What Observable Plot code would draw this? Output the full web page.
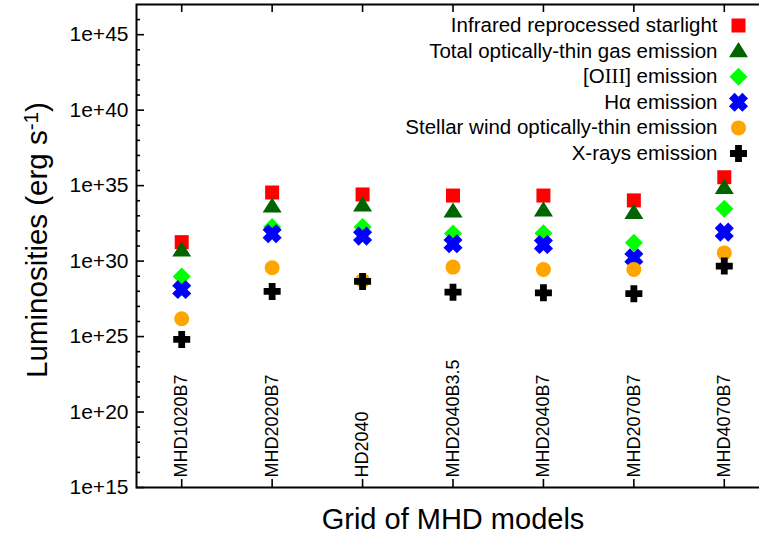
<!DOCTYPE html>
<html>
<head>
<meta charset="utf-8">
<script src="https://cdn.jsdelivr.net/npm/d3@7"></script>
<script src="https://cdn.jsdelivr.net/npm/@observablehq/plot@0.6"></script>
<style>
  html, body { margin: 0; padding: 0; background: #fff; }
  #chart svg { display: block; }
</style>
</head>
<body>
<div id="chart"></div>
<script>
// Models of the grid (one column each)
const models = ["MHD1020B7", "MHD2020B7", "HD2040", "MHD2040B3.5", "MHD2040B7", "MHD2070B7", "MHD4070B7"];

// Luminosities in erg/s, per model
const infrared = [1.8e31, 3.5e34, 2.6e34, 2.2e34, 2.2e34, 1.05e34, 3.6e35];
const gasTotal = [5.1e30, 4.2e33, 4.9e33, 1.95e33, 2.3e33, 1.6e33, 7.2e34];
const oiii     = [9.5e28, 1.8e32, 1.8e32, 6.8e31, 7.1e31, 1.66e31, 2.95e33];
const halpha   = [1.3e28, 6.5e31, 4.5e31, 1.4e31, 1.26e31, 1.66e30, 8.3e31];
const wind     = [1.5e26, 3.6e29, 5.2e28, 4.0e29, 2.8e29, 2.8e29, 3.5e30];
const xrays    = [6.5e24, 9.8e27, 4.5e28, 8.7e27, 7.9e27, 6.9e27, 4.7e29];

const seriesNames = [
  "Infrared reprocessed starlight",
  "Total optically-thin gas emission",
  "[OIII] emission",
  "H\u03b1 emission",
  "Stellar wind optically-thin emission",
  "X-rays emission"
];
const seriesValues = [infrared, gasTotal, oiii, halpha, wind, xrays];

// Y axis ticks
const yMajorTicks = [1e15, 1e20, 1e25, 1e30, 1e35, 1e40, 1e45];
const yMajorLabels = ["1e+15", "1e+20", "1e+25", "1e+30", "1e+35", "1e+40", "1e+45"];
const yMinorTicks = d3.range(16, 47).filter(e => e % 5 !== 0).map(e => Math.pow(10, e));

const xTitle = "Grid of MHD models";
const yTitle = "Luminosities (erg s-1)";

// ---- point shapes ----
function polygon(ctx, pts) {
  ctx.moveTo(pts[0][0], pts[0][1]);
  for (let k = 1; k < pts.length; ++k) ctx.lineTo(pts[k][0], pts[k][1]);
  ctx.closePath();
}
function plusPoints(L, a, angle) {
  const p = [[-a,-L],[a,-L],[a,-a],[L,-a],[L,a],[a,a],[a,L],[-a,L],[-a,a],[-L,a],[-L,-a],[-a,-a]];
  const c = Math.cos(angle), s = Math.sin(angle);
  return p.map(([x, y]) => [x * c - y * s, x * s + y * c]);
}
const rad = size => Math.sqrt(size / Math.PI);
const squareSym   = {draw(ctx, size) { const r = rad(size); polygon(ctx, [[-r,-r],[r,-r],[r,r],[-r,r]]); }};
const triangleSym = {draw(ctx, size) { const r = rad(size); polygon(ctx, [[0,-0.95*r],[r,0.65*r],[-r,0.65*r]]); }};
const diamondSym  = {draw(ctx, size) { const r = rad(size); polygon(ctx, [[0,-r],[r,0],[0,r],[-r,0]]); }};
const fatXSym     = {draw(ctx, size) { const r = rad(size); polygon(ctx, plusPoints(r, 0.42*r, Math.PI/4)); }};
const circleSym   = {draw(ctx, size) { const r = rad(size); ctx.moveTo(r, 0); ctx.arc(0, 0, r, 0, 2*Math.PI); }};
const plusSym     = {draw(ctx, size) { const r = rad(size); polygon(ctx, plusPoints(r, 0.4*r, 0)); }};

const seriesSymbols = [squareSym, triangleSym, diamondSym, fatXSym, circleSym, plusSym];
const seriesColors  = ["#ff0000", "#006400", "#00ff00", "#0000ff", "#ffa500", "#000000"];
const seriesRadii   = [7, 9.5, 9, 9.5, 7.5, 8.5];

const W = 759, H = 538;
const mL = 136, mT = 4, mB = 51, mR = -10;
const frameW = W - mL - mR, frameH = H - mT - mB;

const marks = [];

// data points
seriesValues.forEach((vals, s) => {
  const rows = models.map((m, i) => ({pos: i + 1, value: vals[i]}));
  marks.push(Plot.dot(rows, {
    x: "pos", y: "value",
    symbol: seriesSymbols[s], r: seriesRadii[s],
    fill: seriesColors[s], stroke: "none"
  }));
});

// ticks (pointing inward)
marks.push(Plot.ruleY(yMajorTicks, {y: d => d, insetRight: frameW - 8, stroke: "black", strokeWidth: 1.6}));
marks.push(Plot.ruleY(yMinorTicks, {y: d => d, insetRight: frameW - 4, stroke: "black", strokeWidth: 1.6}));
marks.push(Plot.ruleX(models, {x: (d, i) => i + 1, insetTop: frameH - 8, stroke: "black", strokeWidth: 1.6}));
marks.push(Plot.ruleX(models, {x: (d, i) => i + 1, insetBottom: frameH - 8, stroke: "black", strokeWidth: 1.6}));

// tick labels
marks.push(Plot.text(yMajorTicks, {
  y: d => d, text: (d, i) => yMajorLabels[i],
  frameAnchor: "left", textAnchor: "end", lineAnchor: "middle", dx: -8, fontSize: 21
}));
marks.push(Plot.text(models, {
  x: (d, i) => i + 1, text: d => d,
  frameAnchor: "bottom", rotate: -90, textAnchor: "start", lineAnchor: "middle", dy: -10, fontSize: 18
}));

// axis titles
marks.push(Plot.text([xTitle], {text: d => d, frameAnchor: "bottom", textAnchor: "middle", lineAnchor: "middle", dy: 32, fontSize: 29}));
marks.push(Plot.text([yTitle], {text: d => d, frameAnchor: "left", textAnchor: "middle", lineAnchor: "middle", dx: -99, dy: -6, rotate: -90, fontSize: 29.5}));

// legend
seriesNames.forEach((name, s) => {
  const dy = 21 + 25.6 * s;
  marks.push(Plot.text([name], {text: d => d, frameAnchor: "top-left", dx: 581, dy, textAnchor: "end", lineAnchor: "middle", fontSize: 20.5}));
  marks.push(Plot.dot([name], {
    frameAnchor: "top-left", dx: 602, dy,
    symbol: seriesSymbols[s], r: seriesRadii[s], fill: seriesColors[s], stroke: "none"
  }));
});

// border
marks.push(Plot.frame({stroke: "black", strokeWidth: 2}));

const chart = Plot.plot({
  width: W, height: H,
  marginLeft: mL, marginRight: mR, marginTop: mT, marginBottom: mB,
  style: {fontFamily: "'Liberation Sans', Arial, Helvetica, sans-serif", color: "black", background: "white"},
  x: {type: "linear", domain: [0.5, 7.5], axis: null},
  y: {type: "log", domain: [1e15, 1e47], axis: null},
  marks
});

// superscript for the unit, serif numerals for [OIII]
const svg = d3.select(chart);
svg.selectAll("text").filter(function() { return this.textContent === yTitle; }).each(function() {
  const t = d3.select(this);
  t.text(null);
  t.append("tspan").text("Luminosities (erg s");
  t.append("tspan").attr("dy", "-0.45em").attr("font-size", "0.7em").text("-1");
  t.append("tspan").attr("dy", "0.32em").text(")");
});
svg.selectAll("text").filter(function() { return this.textContent === seriesNames[2]; }).each(function() {
  const t = d3.select(this);
  t.text(null);
  t.append("tspan").text("[O");
  t.append("tspan").attr("font-family", "'Liberation Serif', 'DejaVu Serif', serif").text("III");
  t.append("tspan").text("] emission");
});

document.getElementById("chart").appendChild(chart);
</script>
</body>
</html>
